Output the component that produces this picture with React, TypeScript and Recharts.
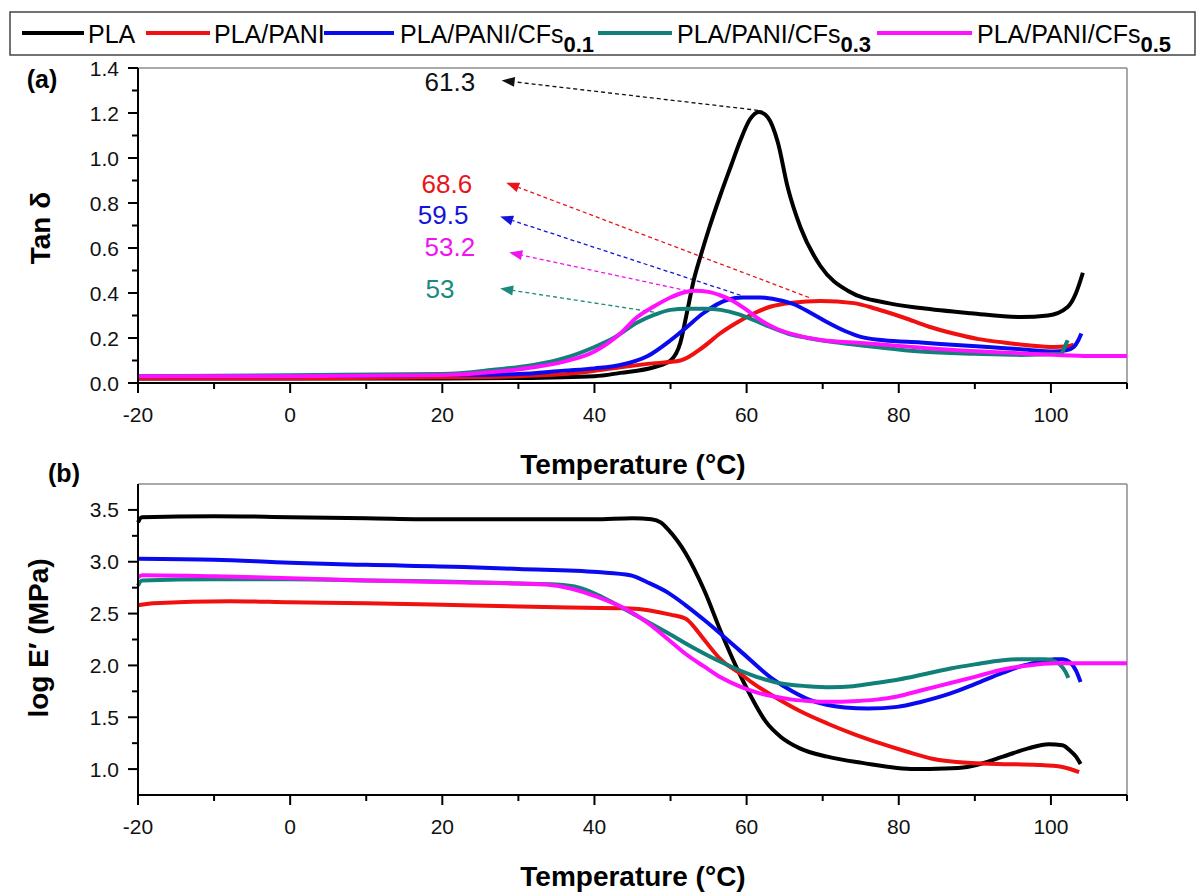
import React from "react";
import { LineChart, Line, XAxis, YAxis, ReferenceLine, ReferenceDot } from "recharts";

const FONT = '"Liberation Sans", Arial, Helvetica, sans-serif';

// axis ticks
const tempTicks = [-20, -10, 0, 10, 20, 30, 40, 50, 60, 70, 80, 90, 100, 110];
const tempLabels = [-20, 0, 20, 40, 60, 80, 100];
const tanTicks = [0, 0.1, 0.2, 0.3, 0.4, 0.5, 0.6, 0.7, 0.8, 0.9, 1.0, 1.1, 1.2, 1.3, 1.4];
const tanLabels = [0, 0.2, 0.4, 0.6, 0.8, 1.0, 1.2, 1.4];
const modTicks = [1.0, 1.25, 1.5, 1.75, 2.0, 2.25, 2.5, 2.75, 3.0, 3.25, 3.5];
const modLabels = [1.0, 1.5, 2.0, 2.5, 3.0, 3.5];

const seriesNames = ["PLA", "PLA/PANI", "PLA/PANI/CFs", "PLA/PANI/CFs", "PLA/PANI/CFs"];
const seriesSubs = ["", "", "0.1", "0.3", "0.5"];
const seriesColors = ["#000000", "#f01010", "#0a0af0", "#108078", "#ff10ff"];

// (a) tan delta vs temperature  [T, tan d]
const plaTan: [number, number][] = [
  [-20, 0.02], [0, 0.02], [20, 0.02], [30, 0.022], [40, 0.03], [43.4, 0.045], [47.8, 0.07],
  [50, 0.1], [51.3, 0.18], [52.2, 0.32], [53, 0.45], [54, 0.57], [55, 0.68], [56.6, 0.84],
  [58, 0.97], [59.2, 1.08], [60.4, 1.17], [61.6, 1.205], [62.8, 1.18], [64.1, 1.07],
  [65.4, 0.87], [67.1, 0.69], [69.7, 0.52], [73.3, 0.41], [78.6, 0.355], [82.9, 0.333],
  [89.5, 0.31], [96, 0.293], [99.6, 0.3], [102.2, 0.338], [103.3, 0.4], [104.2, 0.49],
];
const paniTan: [number, number][] = [
  [-20, 0.02], [0, 0.02], [20, 0.025], [30, 0.03], [38, 0.045], [43.4, 0.07], [47, 0.085],
  [51.3, 0.1], [54.3, 0.16], [56.5, 0.22], [58.8, 0.27], [61, 0.31], [63.2, 0.34], [66, 0.357],
  [69.7, 0.365], [74.1, 0.355], [77, 0.33], [80.7, 0.29], [84, 0.25], [87.2, 0.22],
  [90.5, 0.195], [93.8, 0.18], [97, 0.168], [100.4, 0.16], [102, 0.162], [103, 0.17],
];
const cf01Tan: [number, number][] = [
  [-20, 0.03], [0, 0.03], [20, 0.035], [30, 0.04], [36, 0.055], [40, 0.065], [43.4, 0.08],
  [47, 0.12], [50, 0.19], [52, 0.245], [54.3, 0.31], [57.5, 0.37], [59.5, 0.38], [61.8, 0.38],
  [64, 0.37], [66.2, 0.35], [68.5, 0.31], [70.6, 0.27], [73, 0.23], [75, 0.205], [78, 0.19],
  [82.9, 0.18], [87, 0.17], [91.7, 0.16], [96, 0.15], [100.4, 0.14], [102, 0.145],
  [103, 0.16], [103.6, 0.19], [104, 0.22],
];
const cf03Tan: [number, number][] = [
  [-20, 0.03], [0, 0.035], [20, 0.04], [27, 0.06], [32, 0.08], [36, 0.11], [40, 0.16],
  [42.5, 0.2], [45.7, 0.27], [48, 0.305], [50, 0.325], [52.2, 0.33], [54.5, 0.33],
  [56.6, 0.325], [59, 0.305], [60.9, 0.28], [63, 0.25], [65.4, 0.22], [68, 0.2], [72, 0.18],
  [77, 0.16], [82.9, 0.14], [90, 0.13], [96, 0.125], [101.3, 0.13], [101.8, 0.16], [102.2, 0.19],
];
const cf05Tan: [number, number][] = [
  [-20, 0.03], [0, 0.03], [20, 0.035], [27, 0.05], [32, 0.07], [36, 0.095], [40, 0.14],
  [43.4, 0.22], [45.5, 0.29], [47.8, 0.34], [50, 0.38], [51.5, 0.4], [53.2, 0.41], [55, 0.405],
  [56.5, 0.39], [57.9, 0.37], [60, 0.325], [61.8, 0.28], [64, 0.24], [67.5, 0.205], [70, 0.19],
  [74.1, 0.18], [80, 0.165], [87.2, 0.147], [94, 0.135], [100.4, 0.125], [105, 0.12], [110, 0.12],
];

// (b) log E' vs temperature  [T, log E']
const plaMod: [number, number][] = [
  [-20, 3.38], [-19.5, 3.43], [-10, 3.44], [0, 3.43], [10, 3.42], [20, 3.41], [30, 3.41],
  [40, 3.41], [45, 3.42], [47.5, 3.41], [48.7, 3.38], [49.7, 3.31], [52, 3.08], [54.4, 2.73],
  [56.7, 2.31], [59, 1.93], [60.8, 1.67], [62.5, 1.46], [64.5, 1.31], [67, 1.2], [70.6, 1.12],
  [75.2, 1.06], [82.1, 1.0], [86, 1.005], [89, 1.02], [93.7, 1.12], [97, 1.2], [99.7, 1.24],
  [101.5, 1.23], [102.5, 1.18], [103.3, 1.12], [103.9, 1.05],
];
const paniMod: [number, number][] = [
  [-20, 2.58], [-18, 2.6], [-8, 2.62], [0, 2.61], [10, 2.6], [22.8, 2.58], [35, 2.56],
  [44.7, 2.55], [50, 2.49], [52, 2.45], [53, 2.38], [54.4, 2.25], [56.7, 2.05], [59, 1.93],
  [61, 1.82], [63.6, 1.7], [67, 1.56], [70.6, 1.44], [74, 1.34], [77.5, 1.25], [81, 1.17],
  [84.4, 1.1], [89, 1.06], [93, 1.05], [98.3, 1.04], [101.5, 1.02], [103.7, 0.97],
];
const cf01Mod: [number, number][] = [
  [-20, 3.03], [-10, 3.02], [0, 2.99], [10, 2.97], [22.8, 2.95], [30, 2.93], [40.4, 2.9],
  [44.7, 2.87], [47, 2.8], [49.7, 2.7], [52, 2.58], [54.4, 2.44], [59, 2.15], [63.6, 1.86],
  [66, 1.75], [68.2, 1.67], [70.5, 1.62], [72.9, 1.595], [76, 1.585], [79.8, 1.6], [83, 1.65],
  [86.8, 1.73], [90, 1.82], [93.7, 1.93], [96, 1.99], [98.3, 2.03], [100.5, 2.06],
  [101.6, 2.06], [102.5, 2.03], [103.3, 1.95], [103.9, 1.84],
];
const cf03Mod: [number, number][] = [
  [-20, 2.77], [-19.5, 2.82], [-10, 2.83], [0, 2.83], [10, 2.82], [20, 2.81], [30, 2.79],
  [35, 2.78], [38, 2.75], [41, 2.66], [45, 2.5], [49.7, 2.31], [53, 2.17], [56.7, 2.03],
  [61.3, 1.89], [65, 1.82], [68, 1.8], [71, 1.79], [74, 1.8], [77, 1.83], [80, 1.865],
  [83, 1.91], [86.8, 1.97], [90, 2.01], [93.7, 2.05], [96.5, 2.06], [99.3, 2.06], [100.5, 2.04],
  [101.3, 2.0], [101.9, 1.94], [102.3, 1.88],
];
const cf05Mod: [number, number][] = [
  [-20, 2.85], [-19.5, 2.87], [-10, 2.86], [0, 2.84], [10, 2.82], [22.8, 2.8], [30, 2.79],
  [33.7, 2.78], [37, 2.74], [40.4, 2.66], [44.7, 2.52], [47, 2.41], [49.7, 2.25], [52, 2.11],
  [54.4, 1.99], [56.7, 1.88], [59, 1.8], [61.3, 1.74], [63.6, 1.7], [66, 1.67], [68.5, 1.655],
  [71, 1.65], [74, 1.655], [77, 1.67], [79.8, 1.7], [83, 1.76], [86.8, 1.83], [90, 1.89],
  [93.7, 1.96], [97, 2.0], [100.6, 2.02], [105, 2.02], [110, 2.02],
];

// peak annotations in (a): label, label pos, arrow head, arrow tail (on the peak)
const peakLabels = ["61.3", "68.6", "59.5", "53.2", "53"];
const peakLabelPos: [number, number][] = [[21, 1.338], [20.6, 0.885], [20.1, 0.748], [21, 0.606], [19.7, 0.42]];
const peakArrowHead: [number, number][] = [[27.8, 1.345], [28.4, 0.89], [27.6, 0.74], [28.8, 0.58], [27.6, 0.42]];
const peakArrowTail: [number, number][] = [[61.5, 1.212], [68.2, 0.38], [59.2, 0.39], [52.2, 0.41], [47.8, 0.315]];
const peakColors = ["#111111", "#e8141a", "#1414d8", "#f012f0", "#1b8a7e"];

const tanSeries = [plaTan, paniTan, cf01Tan, cf03Tan, cf05Tan];
const modSeries = [plaMod, paniMod, cf01Mod, cf03Mod, cf05Mod];

const toPts = (arr: [number, number][]) => arr.map(([x, y]) => ({ x, y }));

function makeXTick() {
  return (props: any) => {
    const { x, y, payload } = props;
    const major = tempLabels.includes(payload.value);
    return (
      <g>
        <line x1={x} y1={y} x2={x} y2={y + (major ? 10 : 6)} stroke="#000" strokeWidth={2} />
        {major && (
          <text x={x} y={y + 31} textAnchor="middle" dominantBaseline="central"
            fontSize={21} fontFamily={FONT} fill="#111">
            {payload.value}
          </text>
        )}
      </g>
    );
  };
}

function makeYTick(labels: number[]) {
  return (props: any) => {
    const { x, y, payload } = props;
    const major = labels.includes(payload.value);
    return (
      <g>
        <line x1={x} y1={y} x2={x - (major ? 10 : 6)} y2={y} stroke="#000" strokeWidth={2} />
        {major && (
          <text x={x - 19} y={y} textAnchor="end" dominantBaseline="central"
            fontSize={21} fontFamily={FONT} fill="#111">
            {Number(payload.value).toFixed(1)}
          </text>
        )}
      </g>
    );
  };
}

function arrowShape(color: string) {
  return (p: any) => {
    const { x1, y1, x2, y2 } = p;
    const dx = x2 - x1;
    const dy = y2 - y1;
    const len = Math.hypot(dx, dy) || 1;
    const ux = dx / len;
    const uy = dy / len;
    const L = 13;
    const W = 5;
    const bx = x2 - ux * L;
    const by = y2 - uy * L;
    return (
      <g>
        <line x1={x1} y1={y1} x2={bx} y2={by} stroke={color} strokeWidth={1.3} strokeDasharray="4 3" />
        <polygon
          points={`${x2},${y2} ${bx - uy * W},${by + ux * W} ${bx + uy * W},${by - ux * W}`}
          fill={color}
        />
      </g>
    );
  };
}

function labelShape(text: string, color: string) {
  return (p: any) => (
    <text x={p.cx} y={p.cy} textAnchor="middle" dominantBaseline="central"
      fontSize={26} fontFamily={FONT} fill={color}>
      {text}
    </text>
  );
}

const frame = "#8c8c8c";

export default function App() {
  return (
    <div style={{ position: "absolute", left: 0, top: 0, width: 1200, height: 892, background: "#fff" }}>
      <div style={{ position: "absolute", left: 0, top: 0 }}>
        <LineChart width={1200} height={450} margin={{ top: 68, right: 73, left: 0, bottom: 0 }}>
          <XAxis dataKey="x" type="number" domain={[-20, 110]} ticks={tempTicks} interval={0}
            height={67} tickSize={0} tickMargin={0} tickLine={false}
            axisLine={{ stroke: "#000", strokeWidth: 2 }} tick={makeXTick()} />
          <YAxis type="number" domain={[0, 1.4]} ticks={tanTicks} interval={0} width={138}
            tickSize={0} tickMargin={0} tickLine={false}
            axisLine={{ stroke: "#000", strokeWidth: 2 }} tick={makeYTick(tanLabels)} />
          <ReferenceLine y={1.4} stroke={frame} strokeWidth={1.5} />
          <ReferenceLine x={110} stroke={frame} strokeWidth={1.5} />
          {peakLabels.map((lab, i) => (
            <ReferenceLine key={"ar" + i}
              segment={[
                { x: peakArrowTail[i][0], y: peakArrowTail[i][1] },
                { x: peakArrowHead[i][0], y: peakArrowHead[i][1] },
              ]}
              shape={arrowShape(peakColors[i])} />
          ))}
          {peakLabels.map((lab, i) => (
            <ReferenceDot key={"lb" + i} x={peakLabelPos[i][0]} y={peakLabelPos[i][1]} r={0}
              shape={labelShape(lab, peakColors[i])} />
          ))}
          {tanSeries.map((s, i) => (
            <Line key={"t" + i} data={toPts(s)} dataKey="y" type="monotone" stroke={seriesColors[i]}
              strokeWidth={4} dot={false} isAnimationActive={false} />
          ))}
        </LineChart>
      </div>

      <div style={{ position: "absolute", left: 0, top: 450 }}>
        <LineChart width={1200} height={442} margin={{ top: 34, right: 73, left: 0, bottom: 0 }}>
          <XAxis dataKey="x" type="number" domain={[-20, 110]} ticks={tempTicks} interval={0}
            height={97} tickSize={0} tickMargin={0} tickLine={false}
            axisLine={{ stroke: "#000", strokeWidth: 2 }} tick={makeXTick()} />
          <YAxis type="number" domain={[0.75, 3.75]} ticks={modTicks} interval={0} width={138}
            tickSize={0} tickMargin={0} tickLine={false}
            axisLine={{ stroke: "#000", strokeWidth: 2 }} tick={makeYTick(modLabels)} />
          <ReferenceLine y={3.75} stroke={frame} strokeWidth={1.5} />
          <ReferenceLine x={110} stroke={frame} strokeWidth={1.5} />
          {modSeries.map((s, i) => (
            <Line key={"m" + i} data={toPts(s)} dataKey="y" type="monotone" stroke={seriesColors[i]}
              strokeWidth={4} dot={false} isAnimationActive={false} />
          ))}
        </LineChart>
      </div>

      {/* legend and titles */}
      <svg width={1200} height={892} style={{ position: "absolute", left: 0, top: 0, pointerEvents: "none" }}
        fontFamily={FONT}>
        <rect x={10} y={12} width={1185} height={43} fill="none" stroke="#444" strokeWidth={1.5} />
        {[
          [22, 84, 88],
          [146, 210, 214],
          [324, 394, 400],
          [598, 672, 677],
          [877, 972, 977],
        ].map(([l1, l2, tx], i) => (
          <g key={"lg" + i}>
            <line x1={l1} x2={l2} y1={33} y2={33} stroke={seriesColors[i]} strokeWidth={4} />
            <text x={tx} y={43} fontSize={25} fill="#000">
              {seriesNames[i]}
              {seriesSubs[i] && (
                <tspan dy={9} fontSize={22} fontWeight="bold">{seriesSubs[i]}</tspan>
              )}
            </text>
          </g>
        ))}

        <text x={42} y={79} textAnchor="middle" dominantBaseline="central" fontSize={25} fontWeight="bold">(a)</text>
        <text x={64} y={473} textAnchor="middle" dominantBaseline="central" fontSize={25} fontWeight="bold">(b)</text>

        <text x={633} y={464} textAnchor="middle" dominantBaseline="central" fontSize={28} fontWeight="bold">Temperature (°C)</text>
        <text x={633} y={876} textAnchor="middle" dominantBaseline="central" fontSize={28} fontWeight="bold">Temperature (°C)</text>

        <text transform="translate(40,228) rotate(-90)" textAnchor="middle" dominantBaseline="central"
          fontSize={28} fontWeight="bold">Tan δ</text>
        <text transform="translate(38,638) rotate(-90)" textAnchor="middle" dominantBaseline="central"
          fontSize={28} fontWeight="bold">log E′ (MPa)</text>
      </svg>
    </div>
  );
}
